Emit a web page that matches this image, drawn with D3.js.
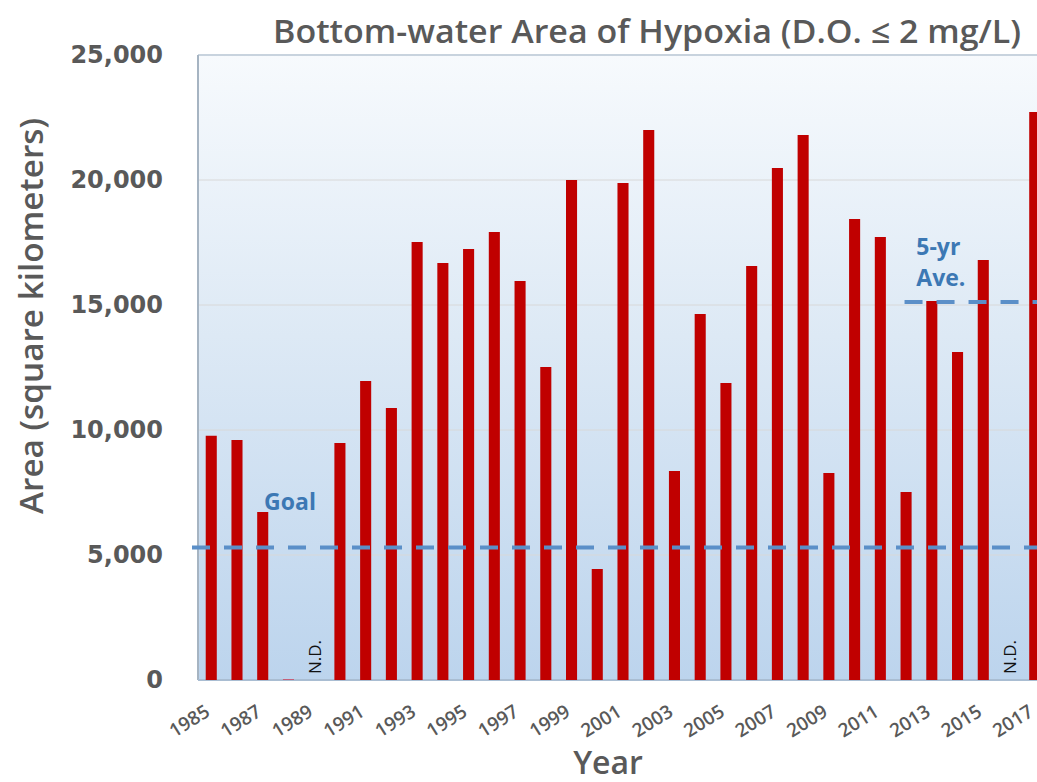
<!DOCTYPE html>
<html>
<head>
<meta charset="utf-8">
<script src="https://cdn.jsdelivr.net/npm/d3@7"></script>
<style>
  body { margin: 0; background: #fff; }
</style>
</head>
<body>
<div id="graphic"></div>
<script>
// data
const years = d3.range(1985, 2018);
const area = [9770, 9600, 6720, 40, null, 9480, 11960, 10880, 17520, 16680,
  17240, 17920, 15960, 12520, 20000, 4440, 19880, 22000, 8360, 14640,
  11880, 16560, 20480, 21800, 8280, 18440, 17720, 7520, 15160, 13120,
  16800, null, 22720];
const noData = [1989, 2016];
const yTicks = [0, 5000, 10000, 15000, 20000, 25000];
const tickYears = years.filter(y => y % 2 === 1);
const goal = 5300;
const fiveYrAve = 15120;

const W = 1037, H = 782;
const margin = {top: 55, left: 198, bottom: 102};
const plotRight = 1048; // the plot runs past the picture's edge

const svg = d3.select("#graphic").append("svg")
    .attr("width", W).attr("height", H)
    .style("font-family", "'Open Sans', sans-serif");

const x = d3.scaleBand()
    .domain(years)
    .range([margin.left, plotRight])
    .paddingInner(0.57).paddingOuter(0.3);

const y = d3.scaleLinear()
    .domain([0, 25000])
    .range([H - margin.bottom, margin.top]);

// background gradient
const grad = svg.append("defs").append("linearGradient")
    .attr("id", "bg").attr("x1", 0).attr("y1", 0).attr("x2", 0).attr("y2", 1);
grad.append("stop").attr("offset", "0%").attr("stop-color", "#f7fafd");
grad.append("stop").attr("offset", "45%").attr("stop-color", "#dde9f5");
grad.append("stop").attr("offset", "100%").attr("stop-color", "#bcd4ed");

svg.append("rect")
    .attr("x", margin.left).attr("y", y(25000))
    .attr("width", plotRight - margin.left).attr("height", y(0) - y(25000))
    .attr("fill", "url(#bg)");

// gridlines
svg.append("g").selectAll("line")
    .data(yTicks.slice(1))
    .join("line")
    .attr("x1", margin.left).attr("x2", plotRight)
    .attr("y1", d => y(d)).attr("y2", d => y(d))
    .attr("stroke", d => d === 25000 ? "#c8d3de" : "#d8d8d8")
    .attr("stroke-width", d => d === 25000 ? 2 : 1);

// left and bottom edges
svg.append("line")
    .attr("x1", margin.left).attr("x2", margin.left)
    .attr("y1", y(25000)).attr("y2", y(0))
    .attr("stroke", "#a6b4c2").attr("stroke-width", 2);
svg.append("line")
    .attr("x1", margin.left).attr("x2", plotRight)
    .attr("y1", y(0)).attr("y2", y(0))
    .attr("stroke", "#a9bdd2").attr("stroke-width", 2);

// bars
svg.append("g").selectAll("rect")
    .data(years.map((yr, i) => ({yr, v: area[i]})).filter(d => d.v !== null))
    .join("rect")
    .attr("x", d => x(d.yr))
    .attr("width", x.bandwidth())
    .attr("y", d => y(d.v))
    .attr("height", d => y(0) - y(d.v))
    .attr("fill", d => d.v < 100 ? "#c4607a" : "#c00000");

// N.D. markers
svg.append("g").selectAll("text")
    .data(noData)
    .join("text")
    .attr("transform", d => `translate(${x(d) + x.bandwidth() / 2 + 7},${y(0) - 6}) rotate(-90)`)
    .attr("font-size", 17)
    .attr("fill", "#111")
    .text("N.D.");

// reference lines
svg.append("line")
    .attr("x1", margin.left - 6).attr("x2", W)
    .attr("y1", y(goal)).attr("y2", y(goal))
    .attr("stroke", "#5b8fc8").attr("stroke-width", 4)
    .attr("stroke-dasharray", "18,14");
svg.append("line")
    .attr("x1", x(2012) + 4).attr("x2", W)
    .attr("y1", y(fiveYrAve)).attr("y2", y(fiveYrAve))
    .attr("stroke", "#5b8fc8").attr("stroke-width", 4)
    .attr("stroke-dasharray", "18,14");

svg.append("text")
    .attr("x", 290).attr("y", y(goal) - 38)
    .attr("text-anchor", "middle")
    .attr("font-size", 23).attr("font-weight", 700)
    .attr("fill", "#3c78b4")
    .text("Goal");
const ave = svg.append("text")
    .attr("x", x(2013) - 10).attr("y", y(fiveYrAve) - 47)
    .attr("font-size", 23).attr("font-weight", 700)
    .attr("fill", "#3c78b4");
ave.append("tspan").text("5-yr");
ave.append("tspan").attr("x", x(2013) - 10).attr("dy", 31).text("Ave.");

// y axis labels
const yAxis = svg.append("g")
    .attr("transform", `translate(${margin.left},0)`)
    .call(d3.axisLeft(y).tickValues(yTicks).tickFormat(d3.format(",")).tickSize(0).tickPadding(35));
yAxis.select(".domain").remove();
yAxis.selectAll("text")
    .attr("font-family", "'DejaVu Sans', sans-serif")
    .attr("font-size", 24).attr("font-weight", 700)
    .attr("fill", "#595959");

// x axis labels
const xAxis = svg.append("g")
    .attr("transform", `translate(0,${y(0)})`)
    .call(d3.axisBottom(x).tickValues(tickYears).tickSize(0).tickPadding(0));
xAxis.select(".domain").remove();
xAxis.selectAll("text")
    .style("font-family", "'Open Sans', sans-serif")
    .style("font-size", "19px").style("font-weight", 600)
    .attr("fill", "#595959")
    .attr("text-anchor", "end")
    .attr("y", 0).attr("dy", 0)
    .attr("transform", "translate(0,35) rotate(-32)");

// titles
svg.append("text")
    .attr("x", 647).attr("y", 43)
    .attr("text-anchor", "middle")
    .attr("font-size", 32).attr("font-weight", 600)
    .attr("fill", "#595959")
    .attr("textLength", 748).attr("lengthAdjust", "spacingAndGlyphs")
    .text("Bottom-water Area of Hypoxia (D.O. \u2264 2 mg/L)");

svg.append("text")
    .attr("transform", `translate(43,316) rotate(-90)`)
    .attr("text-anchor", "middle")
    .attr("font-size", 32).attr("font-weight", 600)
    .attr("fill", "#595959")
    .attr("textLength", 396).attr("lengthAdjust", "spacingAndGlyphs")
    .text("Area (square kilometers)");

svg.append("text")
    .attr("x", 608).attr("y", 774)
    .attr("text-anchor", "middle")
    .attr("font-size", 32).attr("font-weight", 600)
    .attr("fill", "#595959")
    .text("Year");
</script>
</body>
</html>
